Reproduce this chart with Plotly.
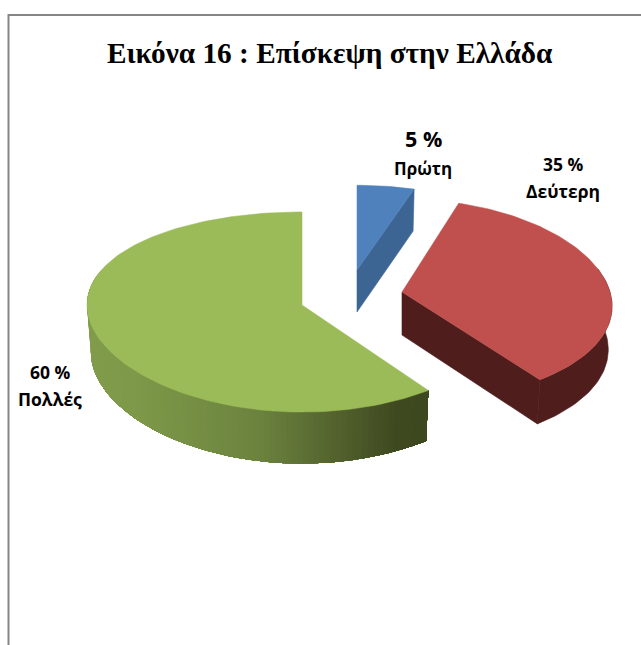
import numpy as np
import plotly.graph_objects as go

# Data
categories = ["Πρώτη", "Δεύτερη", "Πολλές"]
shares = [5, 35, 60]
title_text = "Εικόνα 16 : Επίσκεψη στην Ελλάδα"

# Per-slice styling / drawing set-up (pixel canvas)
apex = {"Πρώτη": (357, 270), "Δεύτερη": (402, 292), "Πολλές": (302, 305)}
radius_x = {"Πρώτη": 200, "Δεύτερη": 208, "Πολλές": 215}
radius_y = {"Πρώτη": 92, "Δεύτερη": 101, "Πολλές": 99.6}
persp_x = {"Πρώτη": 0.086, "Δεύτερη": 0.14, "Πολλές": 0.0}
persp_y = {"Πρώτη": 0.086, "Δεύτερη": 0.086, "Πολλές": 0.07}
depth = {"Πρώτη": 42, "Δεύτερη": 43, "Πολλές": 47}
depth_persp = {"Πρώτη": 0.0, "Δεύτερη": 0.03, "Πολλές": 0.086}
top_colors = {"Πρώτη": "#4f81bd", "Δεύτερη": "#c0504d", "Πολλές": "#9bbb59"}
side_colors = {"Πρώτη": "#3d6594", "Δεύτερη": "#4e1d1c"}
BOTTOM_X = 0.982
green_stops_x = [87, 135, 260, 395, 431]
green_stops_rgb = [(129, 157, 76), (126, 153, 73), (108, 131, 63), (64, 74, 33), (62, 72, 32)]


def project(name, theta, bottom=False):
    cx, cy = apex[name]
    dx = radius_x[name] * np.sin(theta) / (1 + persp_x[name] * np.cos(theta))
    dy = -radius_y[name] * np.cos(theta) / (1 + persp_y[name] * np.cos(theta))
    if bottom:
        return cx + dx * BOTTOM_X, cy + dy + depth[name] / (1 + depth_persp[name] * np.cos(theta))
    return cx + dx, cy + dy


def apex_pt(name, bottom=False):
    cx, cy = apex[name]
    return (cx, cy + depth[name]) if bottom else (cx, cy)


def poly(fig, pts, color, lw=0.6):
    xs = [p[0] for p in pts] + [pts[0][0]]
    ys = [p[1] for p in pts] + [pts[0][1]]
    fig.add_trace(go.Scatter(x=xs, y=ys, mode="lines", fill="toself", fillcolor=color,
                             line=dict(color=color, width=lw), hoverinfo="skip", showlegend=False))


def green_color(x):
    c = [np.interp(x, green_stops_x, [r[i] for r in green_stops_rgb]) for i in range(3)]
    return "rgb(%d,%d,%d)" % tuple(c)


fig = go.Figure()

# slice angles from the shares, clockwise from 12 o'clock
total = sum(shares)
cum = 0
spans = {}
for name, v in zip(categories, shares):
    a = cum / total * 2 * np.pi
    cum += v
    spans[name] = (a, cum / total * 2 * np.pi)

# draw order: green, red, blue
for name in ["Πολλές", "Δεύτερη", "Πρώτη"]:
    a, b = spans[name]
    th = np.linspace(a, b, int((b - a) / np.radians(1.5)) + 2)
    # outer wall
    if name == "Πολλές":
        front = th[(th < np.pi * 1.62)]
        # overlapping strips, painted from the far end inwards, avoid antialiasing seams
        for i in range(len(front) - 1, 0, -1):
            t0, t1 = front[i - 1], front[i]
            pts_top = [project(name, t) for t in front[: i + 1]]
            pts_bot = [project(name, t, True) for t in front[: i + 1]]
            poly(fig, pts_top + pts_bot[::-1], green_color((project(name, t0)[0] + project(name, t1)[0]) / 2), lw=0)
    else:
        front = th[np.cos(th) < 0.25]
        if len(front) > 1:
            poly(fig, [project(name, t) for t in front] + [project(name, t, True) for t in front[::-1]],
                 side_colors[name])
    # straight face on the leading edge
    if name in side_colors:
        poly(fig, [apex_pt(name), project(name, b), project(name, b, True), apex_pt(name, True)],
             side_colors[name])
    # top surface
    poly(fig, [apex_pt(name)] + [project(name, t) for t in th], top_colors[name], lw=0.5)

# frame
fig.add_shape(type="line", x0=8.5, x1=8.5, y0=14, y1=645, line=dict(color="#868686", width=2))
fig.add_shape(type="line", x0=8, x1=641, y0=15, y1=15, line=dict(color="#868686", width=2))

# title and labels
fig.add_annotation(x=330, y=52.5, text=f"<b>{title_text}</b>", showarrow=False,
                   font=dict(family="Liberation Serif", size=29.3, color="black"))
label_pos = {"Πρώτη": (423, 153), "Δεύτερη": (563, 178), "Πολλές": (50, 386)}
for name, v in zip(categories, shares):
    x, y = label_pos[name]
    big = 21.5 if name == "Πρώτη" else 17.5
    fig.add_annotation(x=x, y=y - (15 if name == "Πρώτη" else 14), text=f"<b>{v} %</b>", showarrow=False,
                       font=dict(family="Open Sans", size=big, color="black"))
    fig.add_annotation(x=x, y=y + (15 if name == "Πρώτη" else 13), text=f"<b>{name}</b>", showarrow=False,
                       font=dict(family="Open Sans", size=17.5 if name != "Πρώτη" else 17, color="black"))

fig.update_xaxes(range=[0, 641], visible=False, fixedrange=True)
fig.update_yaxes(range=[645, 0], visible=False, fixedrange=True)
fig.update_layout(width=641, height=645, margin=dict(l=0, r=0, t=0, b=0),
                  plot_bgcolor="white", paper_bgcolor="white", showlegend=False)
fig.write_html("out.html", config={"displayModeBar": False},
               post_script="document.body.style.margin='0';document.body.style.overflow='hidden';")
